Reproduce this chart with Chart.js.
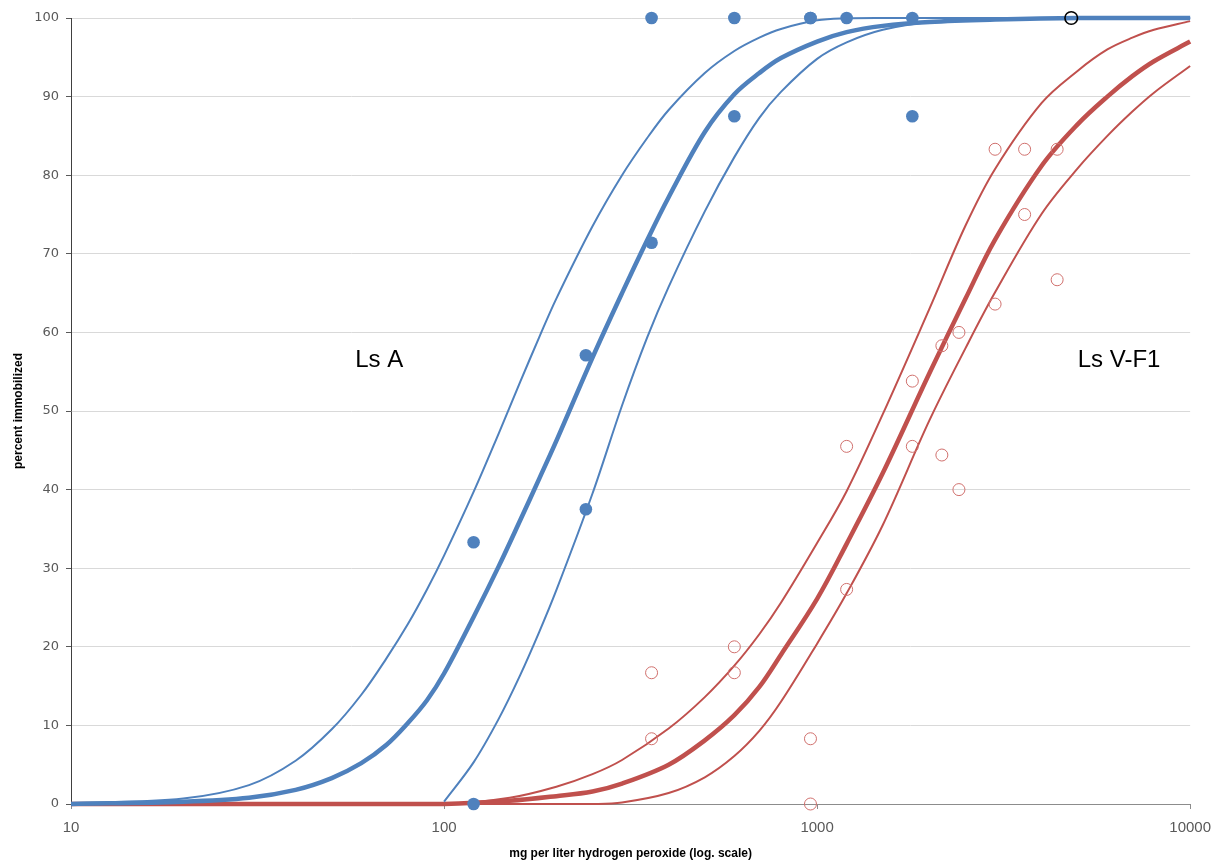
<!DOCTYPE html>
<html><head><meta charset="utf-8">
<script src="https://cdn.jsdelivr.net/npm/chart.js@4"></script>
<style>html,body{margin:0;padding:0;background:#fff}canvas{display:block}</style>
</head><body>
<canvas id="c" width="1221" height="861"></canvas>
<script>
// ---- data ----
const xTicks = [10, 100, 1000, 10000];
const xTitle = 'mg per liter hydrogen peroxide (log. scale)';
const yTitle = 'percent immobilized';

// Ls A (blue) fitted curve and confidence band
const blueX     = [10, 20, 30, 40, 50, 60, 70, 80, 90, 100, 120, 140, 160, 180, 200, 250, 300, 350, 400, 500, 600, 700, 800, 1000, 1200, 1500, 2000, 3000, 5000, 10000];
const blueUpper = [0.1, 0.7, 2.4, 5.5, 9.5, 13.9, 18.5, 22.9, 27.3, 31.6, 39.7, 47.1, 53.7, 59.4, 64.3, 73.5, 80.0, 84.7, 88.3, 93.0, 95.8, 97.5, 98.6, 99.7, 99.95, 100, 100, 100, 100, 100];
const blueFit   = [0.0, 0.3, 0.8, 1.8, 3.3, 5.2, 7.5, 10.3, 13.2, 16.6, 23.8, 30.2, 36.1, 41.4, 46.2, 56.8, 65.0, 71.7, 77.2, 85.5, 90.3, 93.0, 94.9, 97.0, 98.2, 99.0, 99.5, 99.8, 100, 100];
const blueLower = [null, null, null, null, null, null, null, null, null, 0.3, 5.3, 10.8, 16.4, 21.9, 27.2, 39.5, 50.7, 59.3, 65.8, 75.4, 82.3, 87.3, 90.6, 94.8, 96.9, 98.5, 99.5, 99.9, 100, 100];

// Ls V-F1 (red) fitted curve and confidence band
const redX     = [10, 50, 100, 150, 200, 250, 300, 400, 500, 600, 700, 800, 1000, 1200, 1500, 2000, 2500, 3000, 4000, 5000, 6000, 7000, 8000, 10000];
const redUpper = [0, 0, 0, 0.8, 2.2, 3.8, 5.6, 9.6, 13.6, 17.6, 21.6, 25.6, 33.2, 39.8, 49.6, 63.0, 73.6, 80.8, 89.2, 93.3, 96.0, 97.5, 98.5, 99.6];
const redFit   = [0, 0, 0, 0.4, 1.0, 1.6, 2.6, 5.0, 8.1, 11.3, 14.9, 19.0, 26.1, 33.1, 42.1, 54.8, 64.3, 71.8, 81.2, 86.5, 90.0, 92.6, 94.5, 97.0];
const redLower = [0, 0, 0, 0, 0, 0, 0.2, 1.4, 3.4, 6.1, 9.3, 13.0, 20.4, 26.8, 35.5, 48.8, 58.0, 65.1, 75.1, 80.9, 85.0, 88.1, 90.5, 93.9];

// observed responses
const blueDotsX = [120, 120, 240, 240, 360, 360, 600, 600, 960, 960, 1200, 1800, 1800];
const blueDotsY = [33.3, 0, 57.1, 37.5, 100, 71.4, 100, 87.5, 100, 100, 100, 100, 87.5];
const redDotsX  = [360, 360, 600, 600, 960, 960, 1200, 1200, 1800, 1800, 2160, 2160, 2400, 2400, 3000, 3000, 3600, 3600, 4400, 4400];
const redDotsY  = [16.7, 8.3, 20.0, 16.7, 8.3, 0, 45.5, 27.3, 53.8, 45.5, 58.3, 44.4, 60.0, 40.0, 83.3, 63.6, 83.3, 75.0, 83.3, 66.7];
const blackDotsX = [4800];
const blackDotsY = [100];

// annotation texts
const annTexts = ['Ls A', 'Ls V-F1'];
const annX = [67, 6450];
const annY = [56.5, 56.5];

// ---- build ----
const BLUE = '#4F81BD', RED = '#C0504D';
const pts = (xs, ys) => xs.map((x, i) => ({x: x, y: ys[i]}));
function lineDS(xs, ys, color, w) {
  return {data: pts(xs, ys), showLine: true, borderColor: color, borderWidth: w,
    pointRadius: 0, pointHoverRadius: 0, fill: false, tension: 0.35,
    spanGaps: false, clip: false, order: color === RED ? 3 : 2};
}
const datasets = [
  {data: pts(blackDotsX, blackDotsY), pointRadius: 6.3, pointBorderWidth: 1.6, pointBackgroundColor: 'rgba(0,0,0,0)', pointBorderColor: '#000', showLine: false, clip: false, order: 0},
  {data: pts(blueDotsX, blueDotsY), pointRadius: 6.3, pointBorderWidth: 0, pointBackgroundColor: BLUE, pointBorderColor: BLUE, showLine: false, clip: false, order: 0},
  {data: pts(redDotsX, redDotsY), pointRadius: 6, pointBorderWidth: 1, pointBackgroundColor: 'rgba(0,0,0,0)', pointBorderColor: '#d0706d', showLine: false, clip: false, order: 1},
  lineDS(blueX, blueUpper, BLUE, 2),
  lineDS(blueX, blueFit, BLUE, 4.5),
  lineDS(blueX, blueLower, BLUE, 2),
  lineDS(redX, redUpper, RED, 2),
  lineDS(redX, redFit, RED, 4.5),
  lineDS(redX, redLower, RED, 2)
];

const labelPlugin = {
  id: 'lbl',
  afterDatasetsDraw(chart) {
    const {ctx, scales: {x, y}} = chart;
    ctx.save();
    ctx.font = '24px "Liberation Sans", Arial, sans-serif';
    ctx.fillStyle = '#000';
    ctx.textAlign = 'center';
    ctx.textBaseline = 'middle';
    annTexts.forEach((t, i) => ctx.fillText(t, x.getPixelForValue(annX[i]), y.getPixelForValue(annY[i])));
    ctx.restore();
  }
};

new Chart(document.getElementById('c'), {
  type: 'scatter',
  data: {datasets},
  plugins: [labelPlugin],
  options: {
    responsive: false, animation: false, devicePixelRatio: 1,
    layout: {padding: {top: 18, right: 30, left: 0, bottom: 0}},
    plugins: {legend: {display: false}, tooltip: {enabled: false}},
    events: [],
    scales: {
      x: {
        type: 'logarithmic', min: 10, max: 10000,
        afterBuildTicks: s => { s.ticks = xTicks.map(v => ({value: v})); },
        afterFit: s => { s.height = 57; },
        ticks: {callback: v => String(v), font: {family: '"Liberation Sans", Arial, sans-serif', size: 15}, color: '#595959', padding: 10, maxRotation: 0, autoSkip: false},
        grid: {drawOnChartArea: false, drawTicks: true, tickLength: 5, color: '#8c8c8c'},
        border: {display: true, color: '#8c8c8c', width: 1},
        title: {display: true, text: xTitle, font: {family: '"Liberation Sans", Arial, sans-serif', size: 12, weight: 'bold'}, color: '#000', padding: {top: 2, bottom: 0}}
      },
      y: {
        min: 0, max: 100,
        afterFit: s => { s.width = 71; },
        ticks: {stepSize: 10, font: {family: '"DejaVu Sans", Verdana, sans-serif', size: 13}, color: '#595959', padding: 7},
        grid: {color: '#d9d9d9', tickColor: '#595959', tickLength: 5, lineWidth: 1},
        border: {display: true, color: '#404040', width: 1},
        title: {display: true, text: yTitle, font: {family: '"Liberation Sans", Arial, sans-serif', size: 12, weight: 'bold'}, color: '#000', padding: {top: 11, bottom: 0}}
      }
    }
  }
});
</script></body></html>
